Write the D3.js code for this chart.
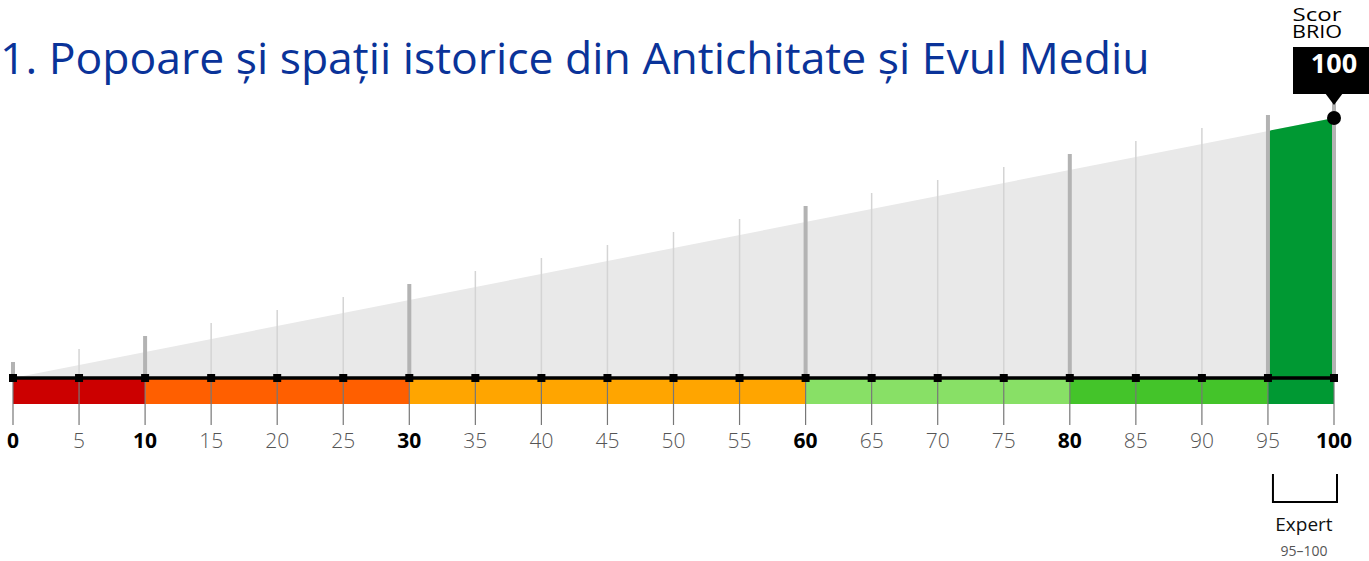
<!DOCTYPE html>
<html>
<head>
<meta charset="utf-8">
<script src="https://cdnjs.cloudflare.com/ajax/libs/d3/7.8.5/d3.min.js"></script>
<style>
  body { margin: 0; background: #fff; }
  svg { display: block; font-family: "Open Sans", "Noto Sans", sans-serif; }
</style>
</head>
<body>
<svg width="1369" height="561"></svg>
<script>
// data
var title = "1. Popoare și spații istorice din Antichitate și Evul Mediu";
var ticks = [0, 5, 10, 15, 20, 25, 30, 35, 40, 45, 50, 55, 60, 65, 70, 75, 80, 85, 90, 95, 100];
var boldTicks = [0, 10, 30, 60, 80, 100];
var bandStarts = [0, 10, 30, 60, 80, 95];
var bandEnds = [10, 30, 60, 80, 95, 100];
var bandColors = ["#cc0000", "#ff5f00", "#ffa500", "#88e066", "#44c42a", "#009933"];
var score = 100;
var levelName = "Expert";
var levelRange = [95, 100];

var svg = d3.select("svg");

var x = d3.scaleLinear().domain([0, 100]).range([13, 1334]);
// wedge height grows with the value
var y = d3.scaleLinear().domain([0, 100]).range([378, 118]);

var baseY = 378, bandH = 26;
var isThick = function(v){ return bandStarts.indexOf(v) >= 0 || v === 100; };
var isBold = function(v){ return boldTicks.indexOf(v) >= 0; };

// title
svg.append("text")
  .attr("x", 0).attr("y", 74)
  .attr("fill", "#0a3399")
  .attr("font-size", 44.5)
  .text(title);

// grey wedge
var area = d3.area().x(function(d){ return x(d); }).y0(baseY).y1(function(d){ return y(d); });
svg.append("path").datum([0, 100]).attr("d", area).attr("fill", "#e9e9e9");

// filled part for the band containing the score
var lvl = bandStarts.filter(function(s){ return s <= score; }).pop();
var lvlIdx = bandStarts.indexOf(lvl);
svg.append("path").datum([lvl, score]).attr("d", area).attr("fill", bandColors[lvlIdx]);

// vertical lines above the axis
svg.selectAll("line.up").data(ticks).enter().append("line")
  .attr("class", "up")
  .attr("x1", function(d){ return x(d); }).attr("x2", function(d){ return x(d); })
  .attr("y1", baseY)
  .attr("y2", function(d){ return y(d) - 16; })
  .attr("stroke", function(d){ return isThick(d) ? "#b3b3b3" : "#d4d4d4"; })
  .attr("stroke-width", function(d){ return isThick(d) ? 4 : 1.5; });

// color bands
svg.selectAll("rect.band").data(bandStarts).enter().append("rect")
  .attr("class", "band")
  .attr("x", function(d){ return x(d); })
  .attr("y", baseY)
  .attr("width", function(d, i){ return x(bandEnds[i]) - x(d); })
  .attr("height", bandH)
  .attr("fill", function(d, i){ return bandColors[i]; });

// tick lines below
svg.selectAll("line.down").data(ticks).enter().append("line")
  .attr("class", "down")
  .attr("x1", function(d){ return x(d); }).attr("x2", function(d){ return x(d); })
  .attr("y1", baseY).attr("y2", 425)
  .attr("stroke", "#777").attr("stroke-width", 1.2);

// axis line
svg.append("line")
  .attr("x1", x(0)).attr("x2", x(100))
  .attr("y1", baseY).attr("y2", baseY)
  .attr("stroke", "#000").attr("stroke-width", 3.5);

// square markers
svg.selectAll("rect.sq").data(ticks).enter().append("rect")
  .attr("class", "sq")
  .attr("x", function(d){ return x(d) - 4; })
  .attr("y", baseY - 4)
  .attr("width", 8).attr("height", 8)
  .attr("fill", "#000");

// tick labels
svg.selectAll("text.tl").data(ticks).enter().append("text")
  .attr("class", "tl")
  .attr("x", function(d){ return x(d); })
  .attr("y", 448)
  .attr("text-anchor", "middle")
  .attr("font-size", 21)
  .attr("font-weight", function(d){ return isBold(d) ? 700 : 300; })
  .attr("fill", function(d){ return isBold(d) ? "#000" : "#555"; })
  .text(function(d){ return d; });

// level bracket
var bx0 = x(levelRange[0]) + 5, bx1 = x(levelRange[1]) + 3;
svg.append("path")
  .attr("d", "M" + bx0 + ",474V502H" + bx1 + "V474")
  .attr("fill", "none").attr("stroke", "#000").attr("stroke-width", 2);
svg.append("text")
  .attr("x", (bx0 + bx1) / 2 - 1).attr("y", 531)
  .attr("text-anchor", "middle").attr("font-size", 19).attr("fill", "#111")
  .text(levelName);
svg.append("text")
  .attr("x", (bx0 + bx1) / 2 - 1).attr("y", 556)
  .attr("text-anchor", "middle").attr("font-size", 14).attr("fill", "#555")
  .text(levelRange[0] + "–" + levelRange[1]);

// score marker + callout
var sx = x(score), sy = y(score);
svg.append("circle").attr("cx", sx).attr("cy", sy).attr("r", 7).attr("fill", "#000");
var boxW = 77, boxX = Math.min(sx - boxW / 2, 1369 - boxW + 1);
svg.append("rect")
  .attr("x", boxX).attr("y", 47).attr("width", boxW).attr("height", 47)
  .attr("fill", "#000");
svg.append("path")
  .attr("d", "M" + (sx - 9) + ",93L" + sx + ",105L" + (sx + 9) + ",93Z")
  .attr("fill", "#000");
svg.append("text")
  .attr("x", sx).attr("y", 73)
  .attr("text-anchor", "middle").attr("font-size", 27).attr("font-weight", 700)
  .attr("fill", "#fff").text(score);
svg.append("text")
  .attr("x", 1317).attr("y", 21)
  .attr("text-anchor", "middle").attr("font-size", 19).attr("fill", "#000")
  .attr("textLength", 49).attr("lengthAdjust", "spacingAndGlyphs")
  .text("Scor");
svg.append("text")
  .attr("x", 1317).attr("y", 38)
  .attr("text-anchor", "middle").attr("font-size", 19).attr("fill", "#000")
  .attr("textLength", 50).attr("lengthAdjust", "spacingAndGlyphs")
  .text("BRIO");
</script>
</body>
</html>
